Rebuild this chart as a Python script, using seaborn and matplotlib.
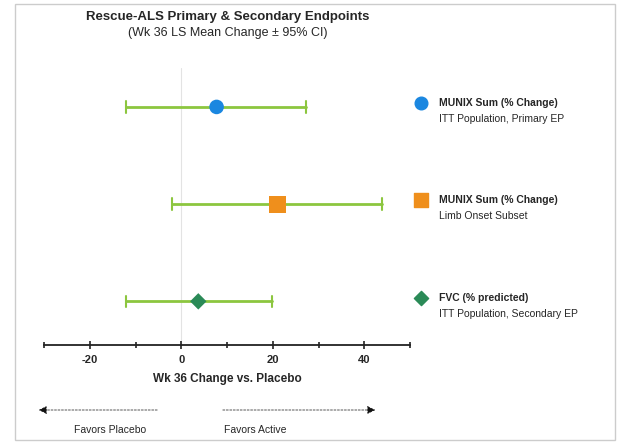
import matplotlib
matplotlib.use("Agg")
import matplotlib.pyplot as plt
import seaborn as sns
from matplotlib.patches import Rectangle

endpoints = ["MUNIX Sum (% Change)", "MUNIX Sum (% Change)", "FVC (% predicted)"]
subtitles = ["ITT Population, Primary EP", "Limb Onset Subset", "ITT Population, Secondary EP"]
means = [7.7, 21.0, 3.7]
lower = [-12.0, -2.0, -12.0]
upper = [27.2, 43.8, 19.7]
colors = ["#1b87e0", "#ef8f1c", "#2a8a57"]
markers = ["o", "s", "D"]
sizes = [110, 150, 70]
xticks = [-20, 0, 20, 40]

sns.set_style("white")
plt.rcParams['font.family'] = ['Liberation Sans', 'DejaVu Sans']
plt.rcParams['axes.unicode_minus'] = False

fig = plt.figure(figsize=(6.24, 4.43), dpi=100)
fig.patches.append(Rectangle((0.024, 0.007), 0.962, 0.983, transform=fig.transFigure,
                             fill=False, edgecolor="#cccccc", lw=1))
ax = fig.add_axes([0.0705, 0.221, 0.587, 0.632])

ax.axvline(0, color="#e3e3e3", lw=0.8, ymax=0.99, zorder=0)
for i in range(3):
    ax.plot([lower[i], upper[i]], [i, i], color="#8cc63f", lw=2, zorder=1)
    ax.plot([lower[i]] * 2, [i - 0.06, i + 0.06], color="#8cc63f", lw=1.5)
    ax.plot([upper[i]] * 2, [i - 0.06, i + 0.06], color="#8cc63f", lw=1.5)
    sns.scatterplot(x=[means[i]], y=[i], marker=markers[i], s=sizes[i], color=colors[i],
                    edgecolor="none", ax=ax, zorder=3)

ax.set_xlim(-30, 50)
ax.set_ylim(2.45, -0.43)
ax.set_yticks([])
for s in ["top", "right", "left"]:
    ax.spines[s].set_visible(False)
ax.spines["bottom"].set_color("#222222")
ax.spines["bottom"].set_linewidth(1.3)
ax.set_xticks(xticks)
ax.set_xticks([-30, -10, 10, 30, 50], minor=True)
ax.tick_params(axis="x", which="both", direction="inout", length=6, width=1.2, color="#222222",
               labelsize=8, pad=4, bottom=True)
ax.tick_params(axis="x", which="minor", length=4)
for lbl in ax.get_xticklabels():
    lbl.set_fontweight("bold")
ax.set_xlabel("Wk 36 Change vs. Placebo", fontsize=8.5, fontweight="bold", labelpad=6)

fig.text(0.365, 0.955, "Rescue-ALS Primary & Secondary Endpoints", ha="center", fontsize=9.5, fontweight="bold")
fig.text(0.365, 0.918, "(Wk 36 LS Mean Change ± 95% CI)", ha="center", fontsize=9)

rows_px = [103, 200, 298]
lax = fig.add_axes([0, 0, 1, 1], facecolor="none")
lax.set_xlim(0, 624); lax.set_ylim(443, 0); lax.axis("off")
for i in range(3):
    lax.scatter([421], [rows_px[i]], marker=markers[i], s=sizes[i] * 0.75, color=colors[i])
    lax.text(439, rows_px[i], endpoints[i], fontsize=7.5, fontweight="bold", va="center")
    lax.text(439, rows_px[i] + 16, subtitles[i], fontsize=7.5, va="center")

lax.annotate("", xy=(36, 410), xytext=(160, 410),
             arrowprops=dict(arrowstyle="-|>", color="#111111", lw=0.5, ls=(0, (3, 2)), mutation_scale=12))
lax.annotate("", xy=(378, 410), xytext=(220, 410),
             arrowprops=dict(arrowstyle="-|>", color="#111111", lw=0.5, ls=(0, (3, 2)), mutation_scale=12))
lax.text(110, 430, "Favors Placebo", ha="center", va="center", fontsize=7.5)
lax.text(255, 430, "Favors Active", ha="center", va="center", fontsize=7.5)

fig.savefig("out.png", dpi=100)
